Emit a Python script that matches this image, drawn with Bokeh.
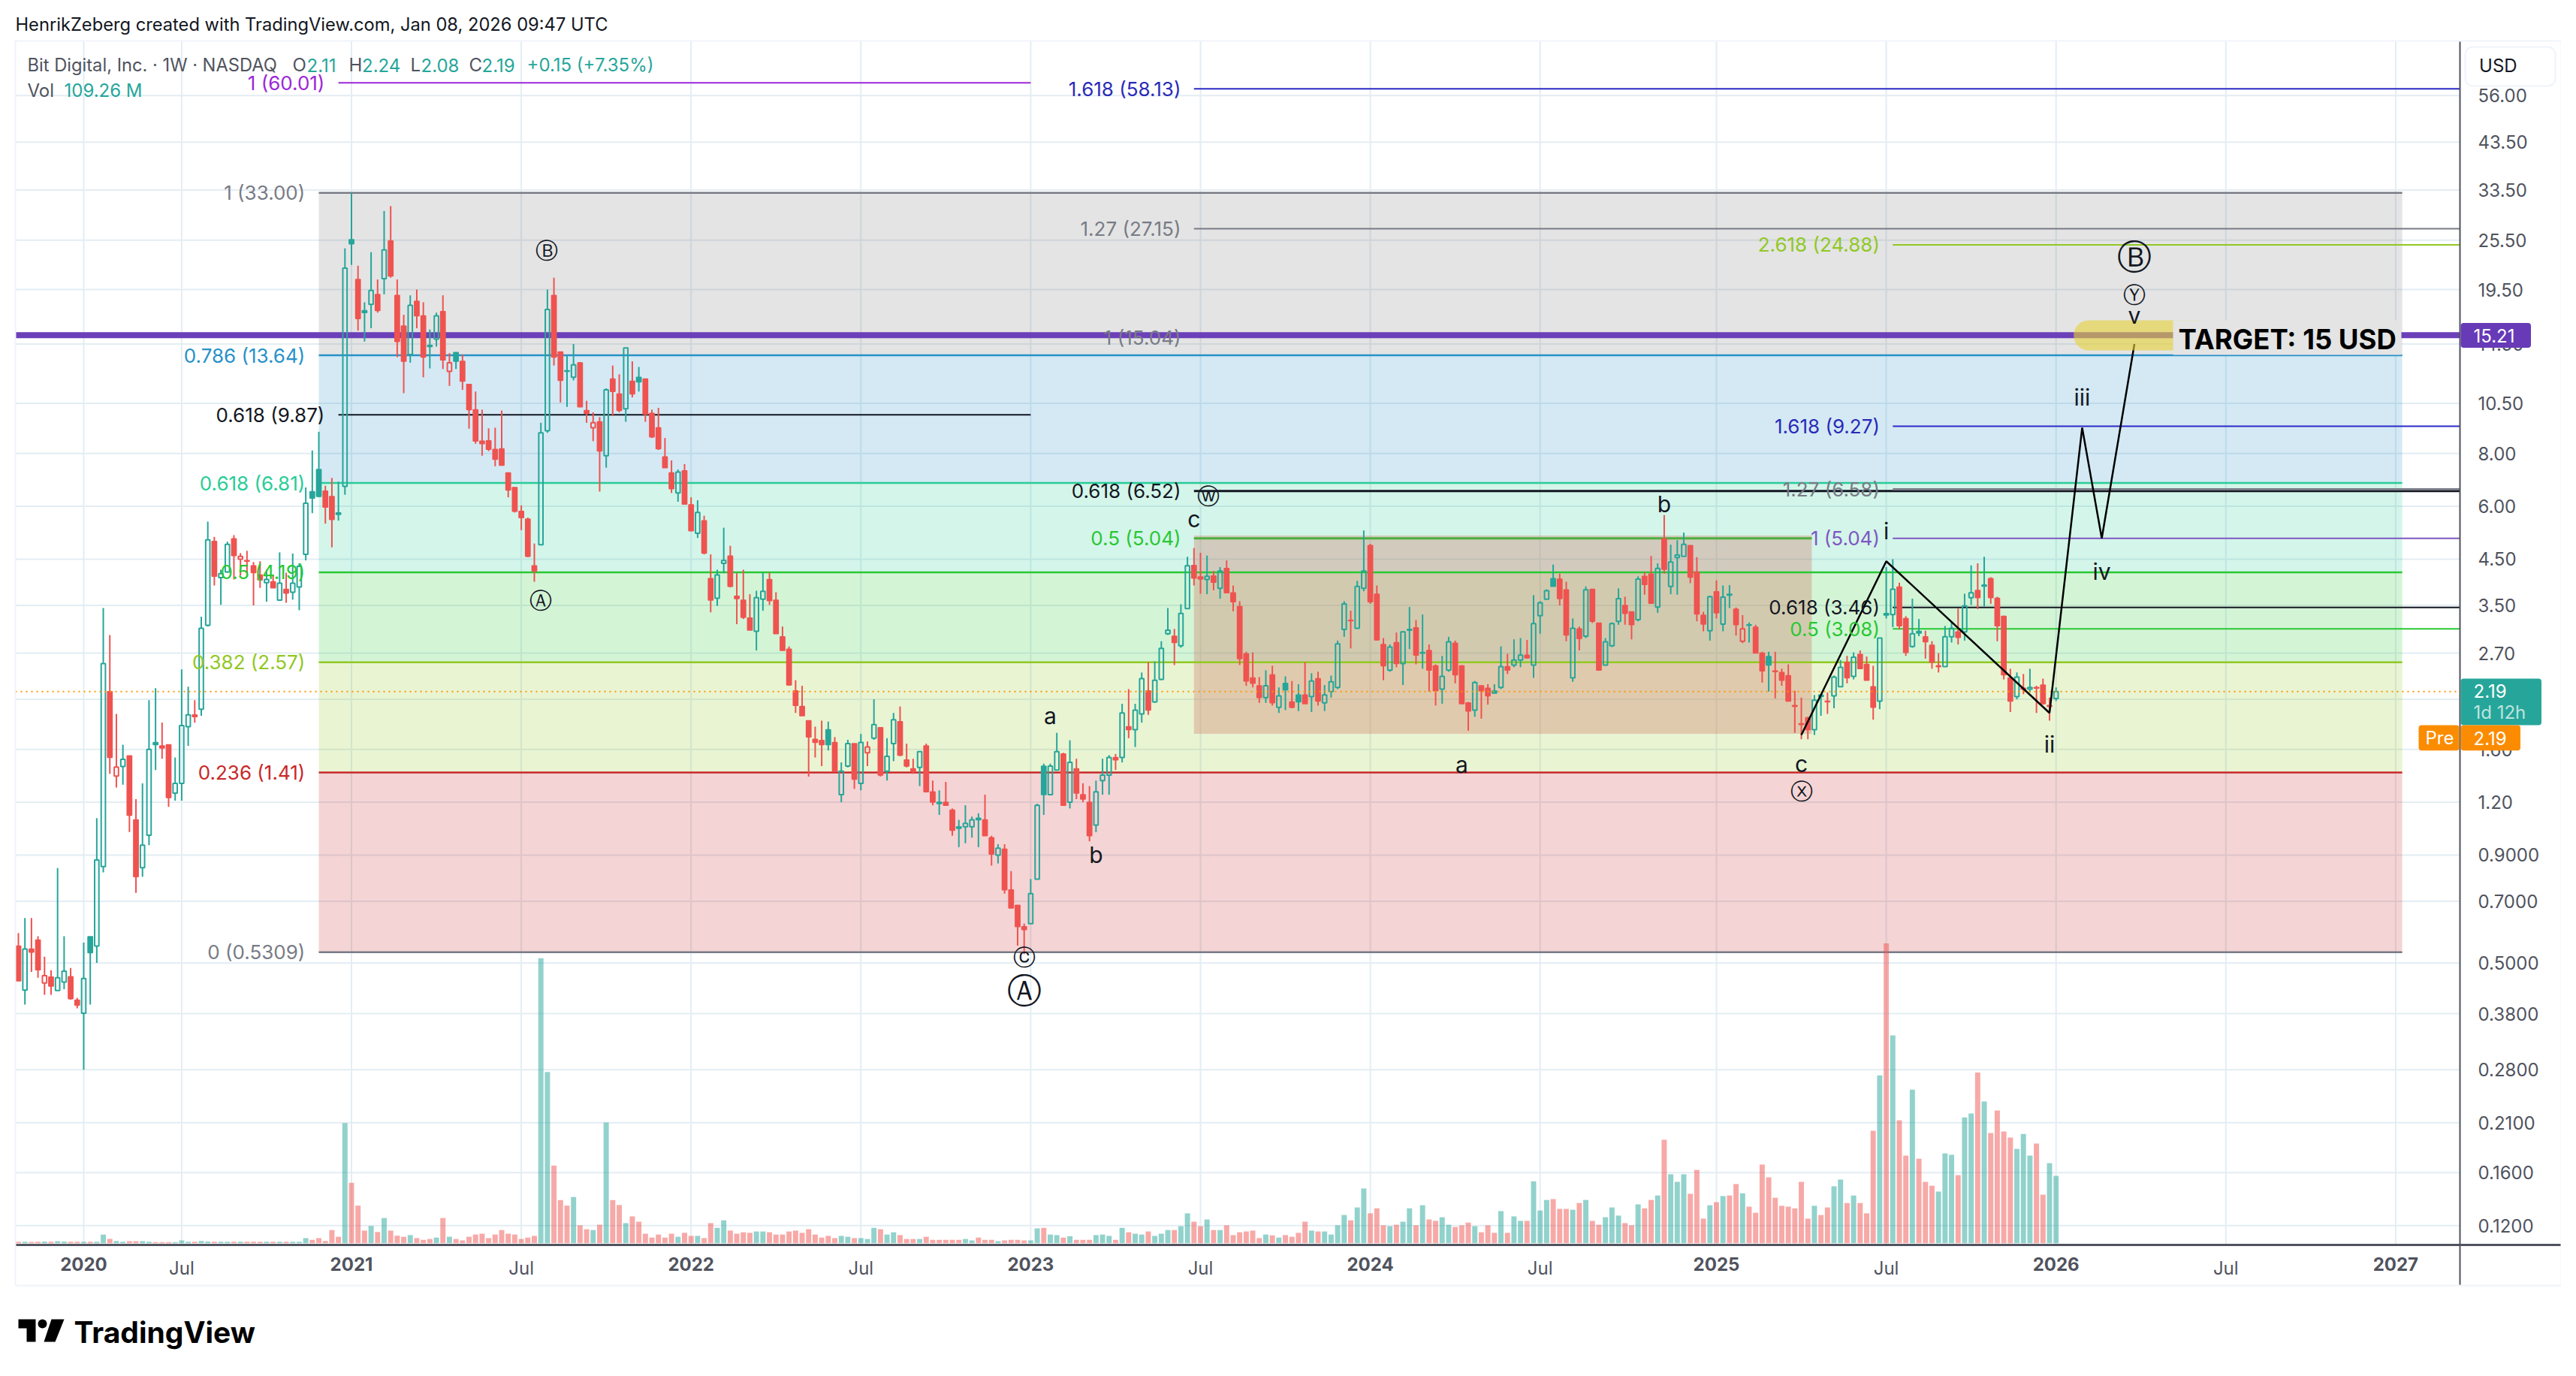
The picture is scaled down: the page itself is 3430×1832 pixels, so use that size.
from bokeh.embed import file_html
from bokeh.resources import INLINE
from bokeh.plotting import figure
from bokeh.models import (Range1d, FixedTicker, Label, BoxAnnotation, PolyAnnotation, LinearAxis, LinearScale,
                          CustomJSTickFormatter)

# ---- weekly candles ----
candle_kinds = ("RHRRrRHHRR" "HSHHRrHRRH" "HSRRHHHRHH" "RHHRrRRRHR" "HRHHHSSRRS"
                "HSRSHRHRRR" "HRRSHRrSRR" "RRRRRRRRRR" "HHRRSHRRrR" "HRRHRSRRRR"
                "RHRRHRRHHR" "RRRHHRRRRR" "RRRRSRHHRH" "rHRHHRRRHR" "RSRRSHHSRR"
                "HRRRRHHSHH" "RHRRRHHHRH" "RHHRHHHRHH" "RRHRHRRRRR" "RHRHSRSRHR"
                "HHHHRHHRRR" "HRHHRHRRHH" "RRRHRRSHRH" "HRHHHSRRHR" "HRRHHHRRHR"
                "RHRHHHRRRH" "RHSRrSRRSR" "RRRRRHSRHH" "RHRRRHSHRR" "HSRRrHHRHH"
                "RHRRRRHrHR" "RrH")

body_high = [
 .549,.54,.54,.567,.467,.464,.462,.479,.465,.409,
 .46,.578,.876,2.55,2.19,1.453,1.515,1.545,1.09,.95,
 1.60,1.66,1.63,1.64,1.33,1.82,1.93,1.93,3.09,5.0,
 4.96,4.16,4.88,5.03,4.57,4.47,4.34,4.13,4.03,3.98,
 3.95,3.82,3.95,4.33,6.1,6.5,7.33,6.52,6.33,5.79,
 21.9,25.6,20.6,17.4,19.4,19.0,24.2,25.4,18.9,16.0,
 17.9,18.3,16.9,14.4,16.9,17.3,13.1,13.85,13.2,11.65,
 10.15,8.55,8.57,8.18,8.2,7.2,6.65,5.84,5.6,4.34,
 8.95,17.5,18.9,13.9,12.55,12.95,13.1,10.1,9.45,9.5,
 11.3,12.0,11.05,14.2,11.85,12.1,12.0,9.95,9.2,7.85,
 7.2,7.23,7.28,6.05,5.8,5.55,4.05,4.13,4.47,4.58,
 3.68,3.6,3.27,3.65,3.78,4.03,3.6,2.95,2.76,2.2,
 2.02,1.87,1.69,1.68,1.78,1.66,1.42,1.65,1.65,1.66,
 1.62,1.83,1.8,1.54,1.88,1.86,1.51,1.44,1.58,1.63,
 1.27,1.2,1.2,1.15,1.05,1.07,1.09,1.1,1.09,.99,
 .935,.93,.745,.685,.61,.73,1.18,1.46,1.46,1.58,
 1.56,1.49,1.44,1.25,1.2,1.27,1.39,1.53,1.53,1.95,
 1.81,1.98,2.35,2.2,2.33,2.77,3.06,2.96,3.35,4.34,
 4.35,4.09,4.1,4.11,4.22,4.28,3.75,3.48,2.69,2.36,
 2.26,2.26,2.4,2.14,2.29,2.07,2.15,2.15,2.32,2.35,
 2.15,2.31,2.84,3.53,3.23,3.88,4.22,4.85,3.72,2.83,
 2.79,2.86,3.03,3.07,3.1,2.71,2.74,2.52,2.38,2.87,
 2.85,2.52,2.06,2.3,2.26,2.23,2.2,2.51,2.51,2.6,
 2.67,2.67,3.17,3.55,3.79,4.05,4.04,3.81,3.09,3.08,
 3.81,3.82,3.18,2.87,3.17,3.63,3.5,3.38,4.04,4.1,
 4.15,4.28,5.03,4.43,4.6,4.88,4.85,4.2,3.32,3.67,
 3.77,3.66,3.72,3.43,3.08,3.15,3.11,2.7,2.65,2.45,
 2.43,2.39,2.03,1.84,1.9,2.09,2.15,2.08,2.37,2.5,
 2.57,2.64,2.68,2.54,2.25,2.93,3.35,3.82,3.87,3.26,
 3.0,3.04,2.95,2.82,2.52,2.95,3.09,3.03,3.49,3.75,
 3.8,3.91,4.05,3.64,3.3,2.36,2.37,2.23,2.24,2.24,
 2.27,2.03,2.19]

body_low = [
 .454,.432,.531,.482,.449,.441,.431,.451,.412,.398,
 .381,.529,.549,.846,1.53,1.383,1.458,1.117,.80,.84,
 1.003,1.64,1.61,1.23,1.26,1.33,1.81,1.91,1.99,3.14,
 4.1,4.07,4.2,4.59,4.5,4.45,4.18,4.02,3.96,3.85,
 3.6,3.74,3.76,3.87,4.62,6.27,6.33,5.97,5.58,5.74,
 6.69,25.0,16.65,17.2,18.0,17.4,20.7,21.0,14.7,13.2,
 13.7,16.9,13.5,14.3,14.9,13.3,12.5,13.2,11.85,10.15,
 8.55,8.43,8.18,7.75,7.5,6.55,5.84,5.64,4.57,4.22,
 4.87,9.05,13.5,11.9,12.5,12.1,10.3,9.95,9.2,8.1,
 7.9,11.2,10.1,10.2,11.05,11.8,9.9,8.75,8.2,7.4,
 6.6,6.45,6.07,5.25,5.18,4.65,3.6,3.64,4.4,3.88,
 3.63,3.28,3.06,3.04,3.62,3.59,3.0,2.74,2.27,2.03,
 1.92,1.71,1.66,1.64,1.64,1.42,1.25,1.46,1.36,1.33,
 1.57,1.7,1.39,1.42,1.65,1.55,1.46,1.42,1.45,1.27,
 1.2,1.19,1.18,1.03,1.04,1.05,1.05,1.09,1.0,.905,
 .9,.745,.675,.61,.6,.62,.79,1.25,1.25,1.43,
 1.18,1.2,1.26,1.22,1.0,1.06,1.35,1.39,1.51,1.53,
 1.78,1.78,1.94,1.98,2.07,2.34,3.0,2.86,2.81,3.44,
 4.06,4.04,4.03,3.97,3.84,3.75,3.57,2.62,2.32,2.29,
 2.12,2.12,2.06,2.01,2.21,2.01,2.07,2.05,2.13,2.08,
 2.06,2.19,2.24,3.07,3.22,3.09,3.84,3.57,2.9,2.52,
 2.46,2.55,2.55,3.06,2.67,2.7,2.46,2.2,2.22,2.46,
 2.4,2.05,1.97,1.98,2.2,2.14,2.17,2.24,2.46,2.53,
 2.6,2.63,2.53,3.31,3.62,3.88,3.63,2.98,2.36,2.92,
 2.96,3.21,2.46,2.53,2.81,3.21,3.35,3.15,3.24,3.92,
 3.54,3.47,4.26,3.88,4.54,4.57,4.08,3.34,3.16,3.05,
 3.36,3.16,3.7,3.15,2.88,3.14,2.7,2.45,2.53,2.44,
 2.33,2.08,2.02,1.83,1.78,1.78,2.13,2.07,2.14,2.25,
 2.36,2.38,2.48,2.33,2.01,2.08,3.32,3.33,3.13,2.71,
 2.8,3.01,2.87,2.57,2.51,2.51,2.95,2.94,3.03,3.65,
 3.65,3.89,3.65,3.13,2.4,2.08,2.13,2.22,2.22,2.23,
 2.05,2.02,2.11]

wick_high = [
 .589,.639,.639,.579,.518,.481,.839,.579,.487,.414,
 .559,.578,1.10,3.45,2.98,1.94,1.64,1.545,1.22,1.33,
 2.09,2.23,1.85,1.64,1.53,2.47,2.25,2.09,3.29,5.52,
 5.08,4.25,4.95,5.13,4.65,4.71,4.43,4.45,4.25,4.14,
 4.67,4.18,4.64,4.4,6.65,8.13,9.0,6.71,7.0,6.86,
 24.4,33.0,22.2,18.2,23.9,20.6,29.9,30.7,20.6,17.0,
 18.9,19.5,18.2,15.7,17.2,18.9,13.8,13.85,13.7,11.65,
 11.2,10.15,9.17,9.2,10.1,7.2,6.65,6.03,5.64,4.9,
 9.45,19.5,20.8,13.9,13.6,14.5,13.15,10.65,10.0,9.75,
 11.4,12.9,12.3,14.2,13.2,12.8,12.0,10.15,10.25,8.7,
 7.7,7.33,7.55,6.3,6.2,5.7,4.62,4.25,5.34,4.84,
 4.17,4.25,3.72,3.79,4.18,4.18,3.76,3.12,2.8,2.33,
 2.26,1.87,1.81,1.87,1.86,1.71,1.49,1.685,1.65,1.74,
 1.67,2.1,1.8,1.7,1.95,2.02,1.65,1.52,1.58,1.65,
 1.35,1.28,1.34,1.16,1.09,1.18,1.11,1.13,1.25,1.0,
 .955,.955,.825,.685,.62,.79,1.19,1.48,1.48,1.75,
 1.57,1.68,1.52,1.33,1.31,1.35,1.52,1.55,1.56,2.05,
 2.22,2.05,2.43,2.57,2.58,2.88,3.45,3.08,3.52,4.56,
 4.78,4.66,4.59,4.22,4.31,4.47,3.9,3.58,2.72,2.71,
 2.37,2.46,2.52,2.24,2.38,2.32,2.28,2.57,2.42,2.44,
 2.27,2.39,2.89,3.58,3.4,4.0,5.26,4.89,3.9,2.93,
 2.83,3.02,3.04,3.47,3.23,3.33,2.83,2.54,2.66,2.95,
 2.89,2.53,2.07,2.32,2.27,2.28,2.28,2.8,2.69,2.91,
 2.93,2.9,3.7,3.58,3.82,4.37,4.16,3.98,3.26,3.12,
 3.88,3.82,3.18,2.93,3.19,3.84,3.67,3.38,4.1,4.2,
 4.58,4.4,5.72,4.87,4.99,5.2,4.85,4.55,3.38,3.69,
 4.01,3.9,3.91,3.46,3.32,3.19,3.15,2.72,2.72,2.72,
 2.48,2.54,2.2,2.12,1.91,2.15,2.15,2.18,2.39,2.6,
 2.66,2.71,2.74,2.65,2.52,2.93,4.31,4.5,3.96,3.3,
 3.63,3.25,3.05,2.88,2.7,3.13,3.2,3.44,3.73,4.35,
 4.4,4.56,4.08,3.67,3.31,2.48,2.43,2.41,2.48,2.26,
 2.35,2.12,2.24]

wick_low = [
 .454,.399,.477,.462,.421,.421,.431,.434,.41,.391,
 .28,.399,.501,.819,1.40,1.30,1.32,1.02,.733,.80,
 .95,1.43,1.52,1.17,1.21,1.21,1.63,1.85,1.92,3.12,
 3.9,3.51,4.18,4.03,4.12,4.1,3.5,3.85,3.57,3.85,
 3.6,3.55,3.61,3.41,4.47,5.78,6.3,5.46,4.8,5.55,
 6.39,22.3,15.6,14.7,15.8,17.2,19.0,20.8,13.5,11.1,
 13.1,15.8,12.1,12.7,14.3,12.66,11.55,12.66,11.3,9.15,
 8.43,7.9,8.1,7.46,7.5,6.3,5.8,5.27,4.55,3.98,
 4.87,8.95,12.9,10.55,10.3,11.9,10.3,9.45,8.55,6.5,
 7.4,9.8,10.0,9.5,10.85,11.2,9.5,8.7,8.15,7.4,
 6.45,6.15,6.07,5.24,5.05,4.62,3.37,3.49,4.17,3.86,
 3.16,3.25,3.06,2.74,3.4,3.51,3.0,2.74,2.26,1.95,
 1.92,1.38,1.53,1.46,1.59,1.42,1.2,1.45,1.29,1.28,
 1.46,1.685,1.38,1.35,1.5,1.54,1.45,1.4,1.31,1.27,
 1.18,1.12,1.18,1.0,.94,.96,.99,.94,1.0,.85,
 .86,.73,.675,.55,.525,.62,.79,1.12,1.25,1.43,
 1.18,1.16,1.22,1.2,.97,1.02,1.25,1.25,1.43,1.49,
 1.7,1.62,1.85,1.93,2.06,2.33,2.98,2.53,2.78,3.44,
 3.9,3.73,3.72,3.8,3.63,3.74,3.39,2.53,2.26,2.24,
 2.06,2.06,2.03,1.95,1.98,2.0,1.97,2.05,1.96,2.03,
 1.97,2.12,2.22,2.95,2.77,3.08,3.78,3.53,2.89,2.33,
 2.44,2.5,2.27,2.76,2.54,2.48,2.19,2.03,2.05,2.44,
 2.29,2.05,1.77,1.91,1.89,2.04,2.17,2.22,2.41,2.5,
 2.5,2.62,2.36,3.0,3.62,3.88,3.5,2.88,2.31,2.74,
 2.93,3.18,2.46,2.52,2.79,3.15,3.15,2.91,3.21,3.71,
 3.53,3.36,4.16,3.72,3.71,4.57,3.95,3.21,3.04,2.89,
 3.26,3.04,3.45,2.97,2.85,2.86,2.7,2.3,2.19,2.11,
 2.26,2.08,1.75,1.69,1.69,1.73,1.92,1.94,2.0,2.25,
 2.29,2.34,2.48,2.33,1.88,1.99,3.26,3.11,3.07,2.66,
 2.78,2.96,2.62,2.48,2.43,2.51,2.86,2.83,2.89,3.51,
 3.43,3.48,3.53,2.88,2.34,1.96,2.1,2.16,2.18,1.95,
 2.04,1.87,2.08]

volumes_m = [
 2.3,2.3,2.0,2.3,2.5,2.3,3.2,2.5,2.3,2.3,
 2.3,2.3,2.3,14.0,6.8,3.6,2.3,3.2,3.2,3.2,
 2.3,1.8,1.8,1.8,1.8,4.5,2.3,2.3,3.6,2.7,
 2.3,2.3,2.3,2.3,2.3,2.3,2.3,2.3,2.3,2.3,
 2.3,2.3,2.3,2.3,8.2,5.4,8.2,3.6,21.3,10.4,
 195,98,61,20.4,28,18.1,40.8,20.4,12.2,10.4,
 13.1,8.2,5.4,6.8,9.1,40.8,10.4,6.8,4.5,10.4,
 14,15.4,8.2,14,21.3,15.4,14,6.8,9.1,11.8,
 463,278,126,70,61,75,29,22.6,21.3,30,
 196,70,62,32.6,43.5,34.9,15.4,9.1,14,9.1,
 15.4,10.4,16.8,11.8,11.8,8.2,32.6,24.9,37.1,20.4,
 15.4,17.7,16.8,19,19,17.7,14,14,19,20.4,
 16.8,22.6,14,9.1,11.8,8.2,11.8,10.4,8.2,8.2,
 6.8,24.9,22.6,14,17.7,13.1,6.8,6.8,6.8,10.4,
 5.4,5.4,5.4,5.4,5.4,6.8,4.5,9.1,5.4,5.4,
 3.2,4.5,5.4,5.4,4.5,4.5,24,24.9,14,13.1,
 9.1,11.3,5.4,5.4,5.4,13.1,14,11.8,5.4,24.9,
 17.7,15.4,14,19,11.8,15.4,21.3,21.3,27.6,48.5,
 34.9,27.6,38.5,21.3,21.3,29,13.1,17.7,19,20.4,
 8.2,14,12.7,9.1,13.1,10.4,16.8,34.9,20.4,19,
 19,14,29,45.7,37.1,58,88.8,48.5,56.6,29,
 27.6,29.9,34.9,56.6,29,61.6,38.5,36.2,42.1,29.9,
 26.3,29,33.5,27.6,17.7,29,16.8,52.1,16.8,43.5,
 36.2,36.2,100.5,53,70.2,71.6,55.7,55.7,54.3,65.2,
 70.2,36.2,29.9,42.1,58,44.8,32.6,29,63,56.6,
 70.2,77.4,168,111.9,99.6,111.9,80.2,119,39.9,61.6,
 66.6,76.5,77.4,96,81,59.3,49.4,127.7,106.9,73.8,
 60.7,59.3,56.6,99.6,39.9,60.7,45.7,58,92.4,103.3,
 65.2,77.4,65.2,48.5,182.5,272.6,486.9,337.4,199.7,142.2,
 249.5,137.2,99.6,93.3,83.8,145.8,143.6,110.5,204.3,210.6,
 277.2,230,178.9,215.6,181.2,171.6,153.1,177.5,142.2,161.7,
 78.8,130,109.26]

# ---- axes ----
year_ticks = [11, 52, 104, 156, 208, 261, 313, 365]
year_labels = ["2020", "2021", "2022", "2023", "2024", "2025", "2026", "2027"]
july_ticks = [26, 78, 130, 182, 234, 287, 339]
price_ticks = [56, 43.5, 33.5, 25.5, 19.5, 14.5, 10.5, 8, 6, 4.5, 3.5, 2.7, 2.1, 1.6, 1.2,
               0.9, 0.7, 0.5, 0.38, 0.28, 0.21, 0.16, 0.12]

# ---- main Fibonacci retracement ----
fib_prices = [33.0, 13.64, 6.81, 4.19, 2.57, 1.41, 0.5309]
fib_texts = ["1 (33.00)", "0.786 (13.64)", "0.618 (6.81)", "0.5 (4.19)", "0.382 (2.57)", "0.236 (1.41)", "0 (0.5309)"]
fib_colors = ["#787b86", "#2891c8", "#28cd96", "#28c832", "#91c823", "#c82828", "#787b86"]
fib_fills = ["#7a7a7a", "#2891c8", "#28cd96", "#28c832", "#91c823", "#c82828"]
fib_start, fib_end = 47, 366

# ---- other Fibonacci extensions ----
X_LEFT, X_RIGHT = 0.54, 374.85
ext_texts = ["1 (60.01)", "0.618 (9.87)", "1.618 (58.13)", "1.27 (27.15)", "1 (15.04)", "0.618 (6.52)", "0.5 (5.04)",
             "2.618 (24.88)", "1.618 (9.27)", "1.27 (6.58)", "1 (5.04)", "0.618 (3.46)", "0.5 (3.08)"]
ext_prices = [60.01, 9.87, 58.13, 27.15, 15.04, 6.52, 5.04, 24.88, 9.27, 6.58, 5.04, 3.46, 3.08]
ext_text_colors = ["#9c27d8", "#131722", "#2a2ab8", "#787b86", "#787b86", "#131722", "#28c832",
                   "#91c823", "#2a2ab8", "#787b86", "#7e57c2", "#131722", "#28c832"]
ext_line_colors = ["#9c27d8", "#131722", "#2a2ac8", "#787b86", None, "#131722", "#4caf3c",
                   "#91c823", "#2a2ac8", "#787b86", "#7e57c2", "#131722", "#28c832"]
ext_line_widths = [2, 2, 2, 2, 0, 3, 3, 2, 2, 3, 2, 2, 2]
ext_starts = [50, 50, 181, 181, 181, 181, 181, 288, 288, 288, 288, 288, 288]
ext_ends = [156, 156, X_RIGHT, X_RIGHT, X_RIGHT, X_RIGHT, 275.6, X_RIGHT, X_RIGHT, X_RIGHT, X_RIGHT, X_RIGHT, X_RIGHT]
ext_label_x = [47.9, 47.9, 179, 179, 179, 179, 179, 286, 286, 286, 286, 286, 286]

# ---- wave count ----
wave_x = [274, 287, 312, 317, 320, 325]
wave_y = [1.73, 4.45, 1.95, 9.2, 5.04, 14.5]
wave_texts = ["Ⓑ", "Ⓐ", "ⓒ", "Ⓐ", "a", "b", "c", "ⓦ", "a", "b", "c", "ⓧ", "i", "ii", "iii", "iv", "v", "Ⓨ", "Ⓑ"]
wave_text_x = [81.9, 81, 155, 155, 159, 166, 181, 183.2, 222, 253, 274, 274, 287, 312, 317, 320, 325, 325, 325]
wave_text_y = [24.1, 3.6, 0.517, 0.43, 1.917, 0.90, 5.59, 6.33, 1.47, 6.07, 1.48, 1.276, 5.24, 1.645, 10.84, 4.2, 16.94, 18.96, 23.3]
wave_text_size = [30, 30, 30, 46, 30, 30, 30, 30, 30, 30, 30, 30, 30, 30, 30, 30, 30, 30, 46]

LAST_PRICE = 2.19
TARGET_LINE = 15.21

# the pane's edges, in data terms
PRICE_TOP, PRICE_BOTTOM, PRICE_FOOT = 75.43, 0.1079, 0.0867

FONT = "Inter"
GREEN, RED = "#26a69a", "#ef5350"
GRID = "#e3edf3"
AXIS = "#50535e"

# The frame fills the canvas so that texts and badges outside the pane are not clipped;
# the ranges keep the pane's scale and the axes are placed at the pane's edges.
p = figure(frame_width=3410, frame_height=1824, min_border_left=0, min_border_top=0,
           min_border_right=0, min_border_bottom=0,
           x_range=Range1d(-1.76, 390.37), y_range=Range1d(0.0546, 94.0),
           y_axis_type="log", y_axis_location="right", x_axis_location="below",
           output_backend="svg", toolbar_location=None, background_fill_color="white",
           border_fill_color="white")
p.outline_line_color = None
p.extra_y_ranges["vol"] = Range1d(-206.6, 2018.6)
p.extra_y_scales["vol"] = LinearScale()
p.xgrid.visible = False
p.ygrid.visible = False

# axes
yax = p.yaxis[0]
yax.fixed_location = X_RIGHT
yax.bounds = (PRICE_FOOT, PRICE_TOP)
yax.ticker = FixedTicker(ticks=price_ticks)
yax.formatter = CustomJSTickFormatter(code="return tick >= 1 ? tick.toFixed(2) : tick.toFixed(4)")
yax.major_tick_line_color = None
yax.minor_tick_line_color = None
yax.axis_line_color = AXIS
yax.axis_line_width = 2
yax.major_label_text_font = FONT
yax.major_label_text_font_size = "24px"
yax.major_label_text_color = AXIS
yax.major_label_standoff = 18

xax = p.xaxis[0]
xax.fixed_location = PRICE_BOTTOM
xax.bounds = (X_LEFT, 390.37)
xax.ticker = FixedTicker(ticks=year_ticks)
xax.major_label_overrides = dict(zip(year_ticks, year_labels))
xax.major_tick_line_color = None
xax.minor_tick_line_color = None
xax.axis_line_color = AXIS
xax.axis_line_width = 3
xax.major_label_text_font = FONT
xax.major_label_text_font_size = "24px"
xax.major_label_text_font_style = "bold"
xax.major_label_text_color = AXIS
xax.major_label_standoff = 10

jul = LinearAxis(fixed_location=PRICE_BOTTOM, bounds=(X_LEFT, 390.37), ticker=FixedTicker(ticks=july_ticks),
                 major_label_overrides={t: "Jul" for t in july_ticks})
jul.major_tick_line_color = None
jul.minor_tick_line_color = None
jul.axis_line_color = None
jul.major_label_text_font = FONT
jul.major_label_text_font_size = "24px"
jul.major_label_text_color = AXIS
jul.major_label_standoff = 10
p.add_layout(jul, "below")

# grid of the pane
vt = year_ticks + july_ticks
p.segment(x0=vt, x1=vt, y0=[PRICE_BOTTOM] * len(vt), y1=[PRICE_TOP] * len(vt), line_color=GRID, line_width=2)
p.segment(x0=[X_LEFT] * len(price_ticks), x1=[X_RIGHT] * len(price_ticks), y0=price_ticks, y1=price_ticks,
          line_color=GRID, line_width=2)

# Fibonacci bands
p.quad(left=[fib_start] * 6, right=[fib_end] * 6, top=fib_prices[:-1], bottom=fib_prices[1:],
       fill_color=fib_fills, fill_alpha=0.2, line_color=None)
p.quad(left=[181], right=[275.6], top=[5.12], bottom=[1.74], fill_color="#cd6955", fill_alpha=0.3, line_color=None)
for price, col in zip(fib_prices, fib_colors):
    p.line([fib_start, fib_end], [price, price], line_color=col, line_width=2.5)
for price, col, w, a, b in zip(ext_prices, ext_line_colors, ext_line_widths, ext_starts, ext_ends):
    if col:
        p.line([a, b], [price, price], line_color=col, line_width=w)
p.line([X_LEFT, X_RIGHT], [TARGET_LINE, TARGET_LINE], line_color="#673ab7", line_width=8, line_alpha=0.97)

# volume
bars = list(range(1, len(body_high) + 1))
vol_cols = [GREEN if k in "Hr" else RED for k in candle_kinds]
p.vbar(x=bars, top=volumes_m, bottom=0, width=0.8, fill_color=vol_cols, fill_alpha=0.5, line_color=None,
       y_range_name="vol")

# candles
cols = [GREEN if k in "HS" else RED for k in candle_kinds]
p.segment(x0=bars, x1=bars, y0=wick_high, y1=body_high, line_color=cols, line_width=2)
p.segment(x0=bars, x1=bars, y0=body_low, y1=wick_low, line_color=cols, line_width=2)
solid = [i for i, k in enumerate(candle_kinds) if k in "RS"]
hollow = [i for i, k in enumerate(candle_kinds) if k in "Hr"]
p.vbar(x=[bars[i] for i in solid], top=[body_high[i] for i in solid], bottom=[body_low[i] for i in solid],
       width=0.72, fill_color=[cols[i] for i in solid], line_color=[cols[i] for i in solid], line_width=1.5)
p.vbar(x=[bars[i] for i in hollow], top=[body_high[i] for i in hollow], bottom=[body_low[i] for i in hollow],
       width=0.65, fill_color=None, line_color=[cols[i] for i in hollow], line_width=2)

# last price line, wave path
p.line([X_LEFT, X_RIGHT], [LAST_PRICE, LAST_PRICE], line_color="#ff9800", line_width=2, line_dash=[2, 5])
p.line(wave_x, wave_y, line_color="#000000", line_width=2.5)
p.line([318, 334.8], [15.2, 15.2], line_color="#e6d235", line_width=40, line_alpha=0.6, line_cap="round")


def canvas_label(text, x, y, color="#131722", size=24, align="left", style="normal", baseline="middle"):
    p.add_layout(Label(x=x, y=y, x_units="canvas", y_units="canvas", text=text, text_color=color,
                       text_font=FONT, text_font_size=f"{size}px", text_font_style=style,
                       text_align=align, text_baseline=baseline))


def canvas_box(l, r, t, b, fill=None, line=None, radius=0, lw=2):
    p.add_layout(BoxAnnotation(left=l, right=r, top=t, bottom=b,
                               left_units="canvas", right_units="canvas", top_units="canvas", bottom_units="canvas",
                               fill_color=fill, fill_alpha=1 if fill else 0,
                               line_color=line, line_width=lw, line_alpha=1 if line else 0,
                               border_radius=radius))


def data_label(text, x, y, color, size=26, align="right", font=FONT):
    p.add_layout(Label(x=x, y=y, text=text, text_color=color, text_font=font, text_font_size=f"{size}px",
                       text_align=align, text_baseline="middle"))


for text, price, col in zip(fib_texts, fib_prices, fib_colors):
    data_label(text, 44.9, price, col)
for text, price, col, x in zip(ext_texts, ext_prices, ext_text_colors, ext_label_x):
    data_label(text, x, price, col)
for text, x, y, size in zip(wave_texts, wave_text_x, wave_text_y, wave_text_size):
    circled = text in "ⒶⒷⓒⓦⓧⓎ"
    data_label(text, x, y, "#131722", size=size, align="center", font="DejaVu Sans" if circled else FONT)

# frame chrome
canvas_box(20, 3410, 54, 1711, line="#f0f3fa")

# target label
canvas_box(2893, 3197, 426, 472, fill="#e4e4e4")
canvas_label("TARGET: 15 USD", 2900, 451, color="#000000", size=36.5, style="bold")

# header
canvas_label("HenrikZeberg created with TradingView.com, Jan 08, 2026 09:47 UTC", 20, 32, size=23.7)
canvas_label("Bit Digital, Inc. · 1W · NASDAQ", 36, 86, color=AXIS, size=23.7)
for letter, lx, value, vx in [("O", 389, "2.11", 408), ("H", 464, "2.24", 481.5), ("L", 546, "2.08", 560), ("C", 624, "2.19", 641)]:
    canvas_label(letter, lx, 86, color=AXIS)
    canvas_label(value, vx, 86, color=GREEN)
canvas_label("+0.15 (+7.35%)", 701, 86, color=GREEN)
canvas_label("Vol", 36, 120, color=AXIS)
canvas_label("109.26 M", 85, 120, color=GREEN)

# price scale badges
canvas_box(3282, 3402, 62, 114, fill="white", line="#f0f3fa", radius=10)
canvas_label("USD", 3300.6, 87, size=24)
canvas_box(3276, 3369.5, 429.5, 462.5, fill="#673ab7", radius=4)
canvas_label("15.21", 3293, 446, color="white")
canvas_box(3276, 3383.5, 903, 965, fill=GREEN, radius=4)
canvas_label("2.19", 3293, 919.6, color="white")
canvas_label("1d 12h", 3293, 948, color="#bfe3df")
canvas_box(3220, 3274, 965, 998.7, fill="#fb8c00", radius=4)
canvas_box(3276, 3355.5, 965, 998.7, fill="#fb8c00", radius=4)
canvas_label("Pre", 3229, 982, color="white")
canvas_label("2.19", 3293, 982, color="white")

# TradingView logo
p.add_layout(PolyAnnotation(xs=[24, 47, 47, 35, 35, 24], ys=[1756, 1756, 1786, 1786, 1768, 1768],
                            xs_units="canvas", ys_units="canvas", fill_color="#000000", fill_alpha=1, line_color=None))
p.add_layout(PolyAnnotation(xs=[68, 85, 73, 58], ys=[1756, 1756, 1786, 1786],
                            xs_units="canvas", ys_units="canvas", fill_color="#000000", fill_alpha=1, line_color=None))
canvas_box(50, 62, 1756, 1768, fill="#000000", radius=6)
canvas_label("TradingView", 98, 1773, color="#000000", size=39, style="bold")

open("out.html", "w").write(file_html(p, INLINE))
